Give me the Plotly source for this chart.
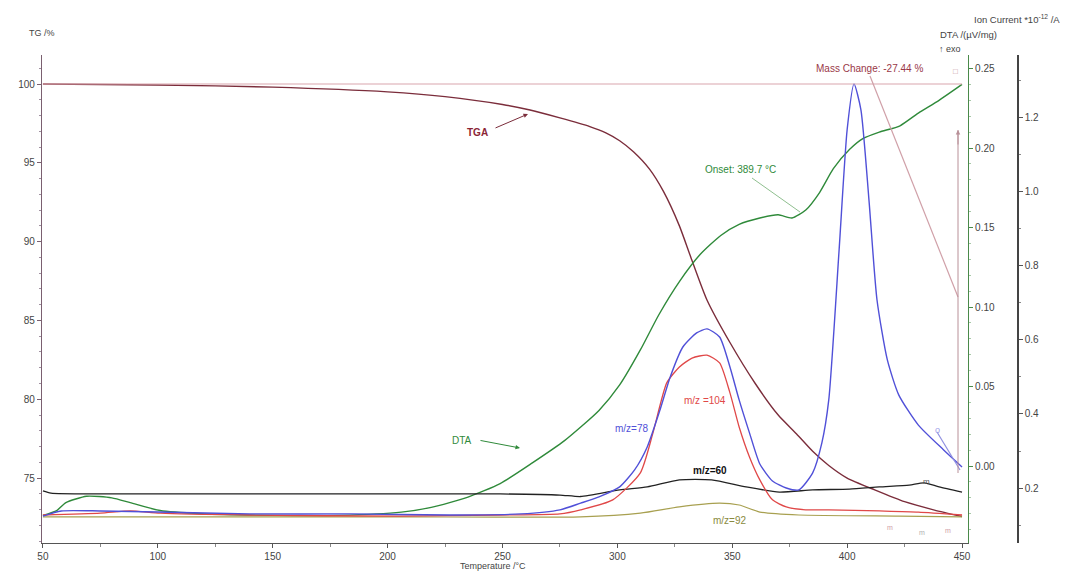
import plotly.graph_objects as go

# ---------------- data ----------------
tga_T = [50, 100, 150, 200, 225, 250, 262, 275, 288, 295, 301, 307, 314, 320, 327, 332, 339, 349,
         360, 370, 378, 385, 392, 400, 412, 425, 438, 450]
tga_TG = [100.0, 99.94, 99.8, 99.5, 99.2, 98.7, 98.35, 97.85, 97.3, 96.9, 96.4, 95.7, 94.6, 93.2,
          91.0, 89.0, 86.3, 83.6, 81.0, 79.0, 77.8, 76.7, 75.8, 75.0, 74.25, 73.5, 72.97, 72.56]

dta_T = [50, 56, 60, 69, 80, 88, 101, 119, 149, 179, 206, 219, 235, 249, 263, 277, 292, 301, 310,
         318, 327, 336, 345, 353, 362, 370, 376, 382, 388, 394, 401, 407, 414, 423, 431, 440, 450]
dta_v = [-0.031, -0.028, -0.023, -0.019, -0.020, -0.023, -0.028, -0.030, -0.031, -0.031, -0.029,
         -0.026, -0.0195, -0.011, 0.002, 0.016, 0.035, 0.051, 0.073, 0.095, 0.116, 0.133, 0.145,
         0.152, 0.156, 0.158, 0.156, 0.161, 0.172, 0.187, 0.199, 0.206, 0.210, 0.214, 0.222,
         0.230, 0.240]

mz78_T = [50, 58, 75, 100, 140, 184, 227, 258, 275, 284, 292, 301, 307.5, 313, 318.5, 323, 328.5,
          334.5, 339, 344.5, 349, 353, 357.5, 362, 367.5, 373.5, 379, 385, 389, 392, 396.5, 400,
          403, 406, 409.5, 413, 417.5, 422.5, 431, 442, 450]
mz78_v = [0.124, 0.138, 0.138, 0.135, 0.130, 0.130, 0.127, 0.130, 0.141, 0.159, 0.176, 0.203,
          0.249, 0.311, 0.410, 0.500, 0.581, 0.619, 0.630, 0.608, 0.527, 0.438, 0.349, 0.265,
          0.219, 0.200, 0.195, 0.241, 0.322, 0.438, 0.843, 1.168, 1.292, 1.222, 0.978, 0.708,
          0.546, 0.451, 0.370, 0.303, 0.257]

mz104_T = [50, 75, 88, 101, 140, 205, 249, 275, 284, 298, 310, 315.5, 321.5, 327, 332.5, 339,
           344.5, 349, 353, 357.5, 362, 367.5, 373.5, 382, 392, 414, 431, 450]
mz104_v = [0.127, 0.132, 0.138, 0.132, 0.127, 0.124, 0.127, 0.130, 0.141, 0.168, 0.241, 0.349,
           0.484, 0.527, 0.551, 0.559, 0.538, 0.457, 0.365, 0.284, 0.222, 0.168, 0.149, 0.141,
           0.141, 0.138, 0.135, 0.127]

mz60_T = [50, 53.5, 75, 119, 162, 205, 249, 275, 284, 301, 313, 327, 341, 356, 370.5, 385, 401,
          414, 427, 433.5, 440, 450]
mz60_v = [0.192, 0.186, 0.184, 0.184, 0.184, 0.184, 0.184, 0.181, 0.177, 0.195, 0.203, 0.222,
          0.222, 0.203, 0.189, 0.195, 0.197, 0.203, 0.208, 0.214, 0.203, 0.189]

mz92_T = [50, 119, 205, 284, 310, 327, 344.5, 353, 362, 379, 422.5, 450]
mz92_v = [0.122, 0.122, 0.122, 0.122, 0.132, 0.149, 0.159, 0.154, 0.135, 0.127, 0.124, 0.122]

x_ticks = [50, 100, 150, 200, 250, 300, 350, 400, 450]
tg_ticks = [75, 80, 85, 90, 95, 100]
dta_ticks = [0.00, 0.05, 0.10, 0.15, 0.20, 0.25]
ion_ticks = [0.2, 0.4, 0.6, 0.8, 1.0, 1.2]

# ---------------- layout helpers ----------------
# The page body adds an 8 px offset, so the figure is laid out 8 px up/left
W, H = 1075, 574
OFF = 8
SX0, SX1, SY0, SY1 = 42, 968, 55, 543        # plot frame in screen pixels
PW = 993
PH = SY1 - SY0
L = SX0 - OFF
T = SY0 - OFF
B = H - (SY1 - OFF)
R = W - L - PW
XDOM = (SX1 - SX0) / PW


def px(xs):
    return (xs - SX0) / PW


def py(ys):
    return (SY1 - ys) / PH


FONT = "Liberation Sans, Arial, sans-serif"
C_TGA = "#7b2d3b"
C_DTA = "#2f8a3a"
C_78 = "#5050d8"
C_104 = "#e04848"
C_60 = "#222222"
C_92 = "#a8a050"

fig = go.Figure()
fig.add_trace(go.Scatter(x=tga_T, y=tga_TG, yaxis="y", mode="lines",
                         line=dict(color=C_TGA, width=1.4, shape="spline", smoothing=0.6)))
fig.add_trace(go.Scatter(x=dta_T, y=dta_v, yaxis="y2", mode="lines",
                         line=dict(color=C_DTA, width=1.4, shape="spline", smoothing=0.6)))
fig.add_trace(go.Scatter(x=mz92_T, y=mz92_v, yaxis="y3", mode="lines",
                         line=dict(color=C_92, width=1.2, shape="spline", smoothing=0.6)))
fig.add_trace(go.Scatter(x=mz60_T, y=mz60_v, yaxis="y3", mode="lines",
                         line=dict(color=C_60, width=1.3, shape="spline", smoothing=0.6)))
fig.add_trace(go.Scatter(x=mz104_T, y=mz104_v, yaxis="y3", mode="lines",
                         line=dict(color=C_104, width=1.3, shape="spline", smoothing=0.6)))
fig.add_trace(go.Scatter(x=mz78_T, y=mz78_v, yaxis="y3", mode="lines",
                         line=dict(color=C_78, width=1.4, shape="spline", smoothing=0.6)))

tickfont = dict(family=FONT, size=10, color="#444444")

fig.update_layout(
    width=W, height=H,
    margin=dict(l=L, r=R, t=T, b=B, autoexpand=False),
    paper_bgcolor="white", plot_bgcolor="white",
    showlegend=False,
    xaxis=dict(domain=[0, XDOM], range=[49.6, 452.6], tickvals=x_ticks, automargin=False,
               showline=True, linecolor="#555555", linewidth=1.2, showgrid=False, zeroline=False,
               ticks="outside", ticklen=4, tickcolor="#555555", tickfont=tickfont,
               minor=dict(dtick=25, ticks="outside", ticklen=3, tickcolor="#888888")),
    yaxis=dict(range=[70.88, 101.84], tickvals=tg_ticks, automargin=False,
               showline=True, linecolor="#7a6070", linewidth=1.2, showgrid=False, zeroline=False,
               ticks="outside", ticklen=4, tickcolor="#7a6070", tickfont=tickfont,
               minor=dict(dtick=1, ticks="outside", ticklen=2, tickcolor="#a090a0")),
    yaxis2=dict(range=[-0.0484, 0.2585], tickvals=dta_ticks, tickformat=".2f", automargin=False,
                overlaying="y", side="right", anchor="x",
                showline=True, linecolor="#4a8a4a", linewidth=1.2, showgrid=False, zeroline=False,
                ticks="outside", ticklen=4, tickcolor="#4a8a4a", tickfont=tickfont,
                minor=dict(dtick=0.01, ticks="outside", ticklen=2, tickcolor="#a8c8a8")),
    yaxis3=dict(range=[0.0514, 1.370], tickvals=ion_ticks, tickformat=".1f", automargin=False,
                overlaying="y", side="right", anchor="free", position=px(1018),
                showline=True, linecolor="#444444", linewidth=1.5, showgrid=False, zeroline=False,
                ticks="outside", ticklen=4, tickcolor="#555555", tickfont=tickfont,
                minor=dict(dtick=0.1, ticks="outside", ticklen=2, tickcolor="#888888")),
)

# reference line at 100 % and mass-change markers
fig.add_shape(type="line", xref="x", yref="y", x0=50, x1=450, y0=100, y1=100,
              line=dict(color="#d9a5ad", width=1.2))
fig.add_shape(type="line", xref="paper", yref="paper", x0=px(870), y0=py(76), x1=px(958), y1=py(297),
              line=dict(color="#d0a0a8", width=1.2))
fig.add_shape(type="line", xref="paper", yref="paper", x0=px(752), y0=py(178), x1=px(800), y1=py(212),
              line=dict(color="#8fbf8f", width=1))
fig.add_shape(type="line", xref="paper", yref="paper", x0=px(937), y0=py(432), x1=px(960), y1=py(470),
              line=dict(color="#9090e0", width=1.2))
fig.add_shape(type="line", xref="paper", yref="paper", x0=px(958), y0=py(130), x1=px(958), y1=py(473),
              line=dict(color="#b89098", width=1))


def text(xp, yp, s, color="#444444", size=10, xanchor="center", bold=False):
    if bold:
        s = "<b>" + s + "</b>"
    fig.add_annotation(x=px(xp), y=py(yp), xref="paper", yref="paper", text=s, showarrow=False,
                       xanchor=xanchor, yanchor="middle",
                       font=dict(family=FONT, size=size, color=color))


def arrow(hx, hy, tx, ty, color):
    fig.add_annotation(x=px(hx), y=py(hy), xref="paper", yref="paper", text=" ",
                       showarrow=True, ax=tx - hx, ay=ty - hy, arrowhead=2, arrowsize=0.9,
                       arrowwidth=1, arrowcolor=color, font=dict(size=6))


text(42, 33, "TG /%", size=9)
text(1017, 19, "Ion Current *10<sup>-12</sup> /A", size=9.5)
text(968, 34, "DTA /(µV/mg)", size=9.5)
text(950, 49, "↑ exo", size=9)
text(869, 69, "Mass Change: -27.44 %", color="#9a3848", size=10)
text(955, 71, "□", color="#c09098", size=8)
text(493, 566, "Temperature /°C", size=9)
text(477, 132, "TGA", color="#8b2535", size=10, bold=True)
text(462, 440, "DTA", color=C_DTA, size=10)
text(703, 170, "Onset: 389.7 °C", color=C_DTA, size=10, xanchor="left")
text(632, 428, "m/z=78", color=C_78, size=10)
text(705, 400, "m/z =104", color=C_104, size=10)
text(710, 470, "m/z=60", color="#111111", size=10, bold=True)
text(730, 520, "m/z=92", color="#8a8a40", size=10)
text(937, 430, "o", color="#a0a0e8", size=9)
text(926, 481, "m", color="#555555", size=8)
text(890, 527, "m", color="#d0a0a8", size=7)
text(922, 532, "m", color="#b0b0b0", size=7)
text(948, 530, "m", color="#d0a0a8", size=7)

arrow(528, 114, 493, 129, C_TGA)
arrow(520, 448, 478, 440, C_DTA)
arrow(958, 130, 958, 150, "#b89098")

fig.write_html("out.html")
